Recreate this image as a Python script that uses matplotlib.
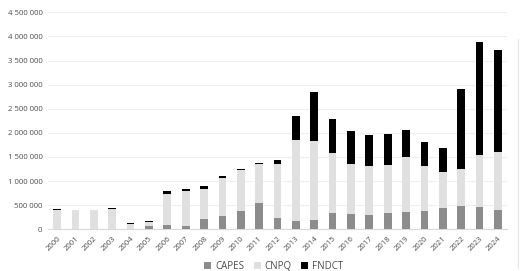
import matplotlib.pyplot as plt
import numpy as np
from matplotlib.lines import Line2D

anos = [str(a) for a in range(2000, 2025)]
capes = [0.0, 0.0, 0.0, 0.0, 0.0, 0.07, 0.08, 0.07, 0.21, 0.28, 0.38, 0.54, 0.24,
         0.17, 0.19, 0.33, 0.32, 0.30, 0.34, 0.36, 0.38, 0.44, 0.49, 0.47, 0.39]
cnpq = [0.405, 0.395, 0.392, 0.425, 0.11, 0.08, 0.65, 0.725, 0.63, 0.785, 0.84, 0.81, 1.115,
        1.68, 1.635, 1.26, 1.03, 1.02, 0.99, 1.14, 0.93, 0.75, 0.77, 1.06, 1.21]
fndct = [0.015, 0.006, 0.008, 0.015, 0.02, 0.02, 0.055, 0.035, 0.06, 0.035, 0.035, 0.03, 0.085,
         0.49, 1.025, 0.70, 0.68, 0.63, 0.65, 0.56, 0.49, 0.50, 1.65, 2.36, 2.11]

capes = np.array(capes) * 1e6
cnpq = np.array(cnpq) * 1e6
fndct = np.array(fndct) * 1e6

plt.rcParams['font.family'] = ['Open Sans', 'DejaVu Sans']

fig = plt.figure(figsize=(5.2, 2.71), dpi=100)
ax = fig.add_axes([0.0923, 0.154, 0.8827, 0.8006])

x = np.arange(len(anos))
w = 0.42
ax.bar(x, capes, w, color='#8c8c8c', label='CAPES', zorder=3)
ax.bar(x, cnpq, w, bottom=capes, color='#e0e0e0', label='CNPQ', zorder=3)
ax.bar(x, fndct, w, bottom=capes + cnpq, color='#000000', label='FNDCT', zorder=3)

ax.set_xlim(-0.5, len(anos) - 0.5)
ax.set_ylim(0, 4500000)
ax.set_yticks(np.arange(0, 4500001, 500000))
ax.set_yticklabels(['{:,}'.format(int(v)).replace(',', ' ') for v in ax.get_yticks()],
                   fontsize=5.6, color='#4d4d4d')
ax.set_xticks(x)
ax.set_xticklabels(anos, rotation=45, fontsize=5.6, color='#4d4d4d', ha='right',
                   rotation_mode='anchor')
ax.tick_params(axis='both', length=0, pad=4)
ax.grid(axis='y', color='#efefef', linewidth=0.8, zorder=0)
for s in ['top', 'right', 'left']:
    ax.spines[s].set_visible(False)
ax.spines['bottom'].set_color('#d9d9d9')

ax.legend(loc='center', bbox_to_anchor=(0.492, -0.172), ncol=3, frameon=False,
          fontsize=7, handlelength=0.7, handleheight=0.7, handletextpad=0.4,
          columnspacing=1.0, labelcolor='#4d4d4d')

fig.add_artist(Line2D([0.996, 0.996], [0.01, 0.855], color='#e6e6e6', linewidth=0.8))

plt.savefig('out.png', dpi=100)
